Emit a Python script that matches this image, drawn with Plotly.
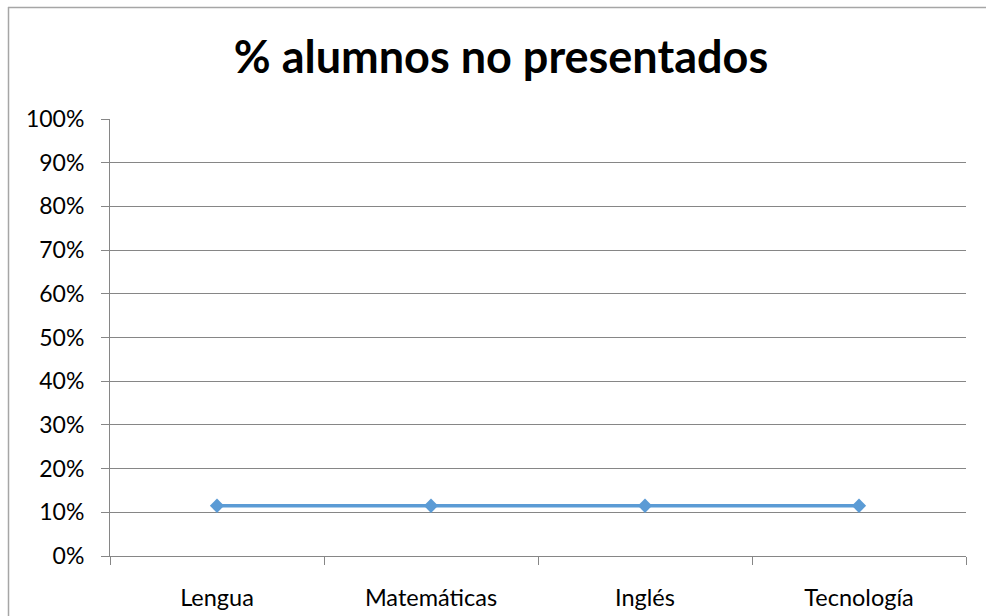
import plotly.graph_objects as go

categories = ["Lengua", "Matemáticas", "Inglés", "Tecnología"]
values = [0.115, 0.115, 0.115, 0.115]
title_text = "% alumnos no presentados"

W, H = 986, 616
L, R, T, B = 110, 20, 119, 60
pw, ph = W - L - R, H - T - B

def px_x(p):
    return (p - L) / pw

def px_y(p):
    return (H - B - p) / ph

fig = go.Figure()
fig.add_trace(go.Scatter(
    x=categories, y=values, mode="lines+markers",
    line=dict(color="#5B9BD5", width=3.5),
    marker=dict(symbol="diamond", size=11, color="#5B9BD5"),
    showlegend=False,
))

fig.update_layout(
    width=W, height=H,
    margin=dict(l=L, r=R, t=T, b=B, autoexpand=False),
    paper_bgcolor="white", plot_bgcolor="white",
    font=dict(family="Lato, Open Sans, sans-serif", color="#000000", size=23),
    title=dict(text="<b>" + title_text + "</b>", x=501 / W, xanchor="center",
               y=1 - 57 / H, yanchor="middle",
               font=dict(size=45, family="Lato, Open Sans, sans-serif", color="#000000")),
    xaxis=dict(type="category", tickson="boundaries", ticks="outside", ticklen=8,
               tickcolor="#868686", showgrid=False, showline=True, linecolor="#868686",
               linewidth=1, range=[-0.5, 3.5], ticklabelstandoff=21, automargin=False,
               tickfont=dict(size=23.5)),
    yaxis=dict(range=[0, 1], dtick=0.1, tickformat=".0%", ticks="outside", ticklen=8,
               tickcolor="#868686", showgrid=True, gridcolor="#868686", gridwidth=1,
               showline=True, linecolor="#868686", linewidth=1, zeroline=False,
               ticklabelstandoff=12, automargin=False, tickfont=dict(size=23)),
    shapes=[
        dict(type="line", xref="paper", yref="paper", x0=px_x(8), x1=px_x(990),
             y0=px_y(7.5), y1=px_y(7.5), line=dict(color="#A6A6A6", width=1.5)),
        dict(type="line", xref="paper", yref="paper", x0=px_x(8.5), x1=px_x(8.5),
             y0=px_y(7), y1=px_y(620), line=dict(color="#A6A6A6", width=1.5)),
    ],
)

fig.write_html("out.html", config={"displayModeBar": False})
with open("out.html", "r", encoding="utf-8") as f:
    html = f.read()
html = html.replace("<head>", "<head><style>html,body{margin:0;padding:0;overflow:hidden}</style>", 1)
with open("out.html", "w", encoding="utf-8") as f:
    f.write(html)
